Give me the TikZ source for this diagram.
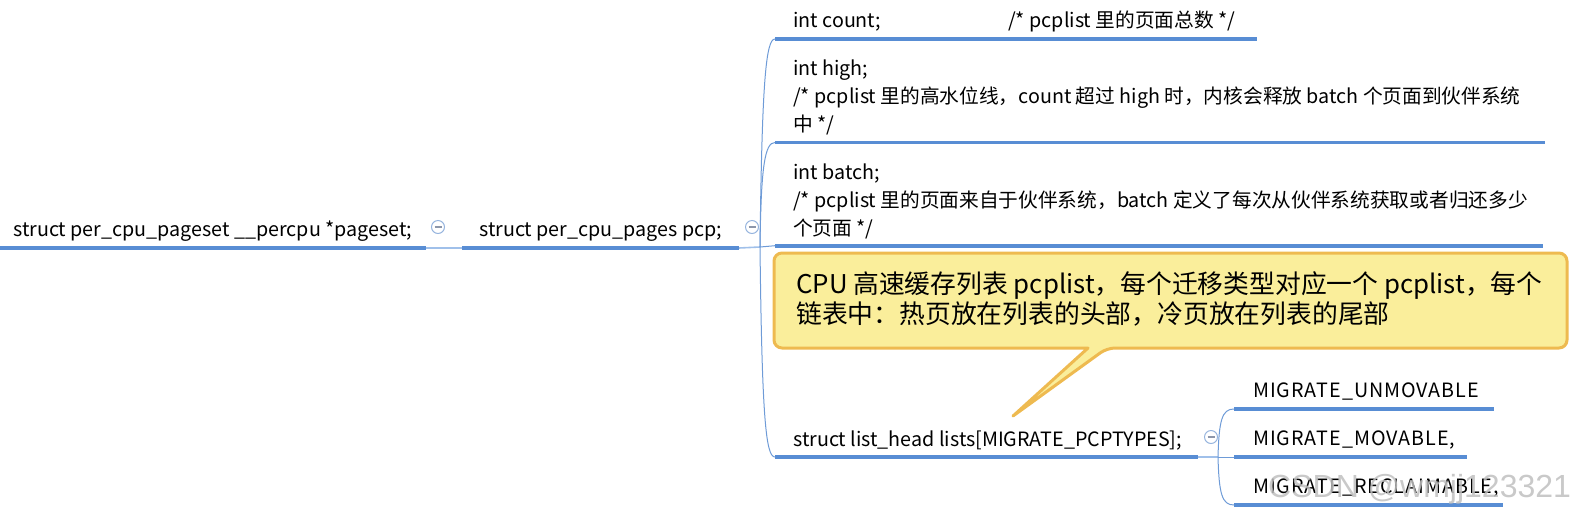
\documentclass[tikz,border=0pt]{standalone}
\usepackage{fontspec}
\setmainfont{Noto Sans CJK SC}
\newfontfamily\wmfont{Liberation Sans}
\newfontfamily\capsfont[LetterSpace=5]{Noto Sans CJK SC}
\definecolor{ublue}{RGB}{88,141,212}
\definecolor{cblue}{RGB}{110,155,215}
\definecolor{jblue}{RGB}{160,192,234}
\definecolor{btnline}{RGB}{150,180,222}
\definecolor{btnminus}{RGB}{140,150,170}
\definecolor{notefill}{RGB}{250,238,155}
\definecolor{noteline}{RGB}{238,186,80}
\begin{document}
\begin{tikzpicture}[x=1pt,y=-1pt,
  txt/.style={inner sep=0pt, anchor=base west, text=black, font=\fontsize{19.7}{28.3}\selectfont},
  ctxt/.style={inner sep=0pt, anchor=base west, text=black, font=\capsfont\fontsize{19.7}{28.3}\selectfont},
  ntxt/.style={inner sep=0pt, anchor=base west, text=black, font=\fontsize{25.8}{27.5}\selectfont},
  wm/.style={inner sep=0pt, anchor=base west, text=black!25, opacity=0.85, font=\wmfont\fontsize{32}{32}\selectfont},
  uline/.style={draw=ublue, line width=3.6pt},
  conn/.style={draw=cblue, line width=1pt},
  joint/.style={draw=jblue, line width=1.6pt},
  btn/.style={circle, draw=btnline, line width=1pt, fill=white, minimum size=13pt, inner sep=0pt,
    path picture={\draw[btnminus, line width=1.3pt]
      ([xshift=-3.5pt]path picture bounding box.center) -- ([xshift=3.5pt]path picture bounding box.center);}},
  notebox/.style={fill=notefill, draw=noteline, line width=3pt, line join=round}
]
\useasboundingbox (0,0) rectangle (1584,515);

% underline end points
\coordinate (ps-l) at (0,248);   \coordinate (ps-r) at (426,248);
\coordinate (pcp-l) at (462,248); \coordinate (pcp-r) at (739,248);
\coordinate (J) at (760,247);
\coordinate (cnt-l) at (775,39);  \coordinate (cnt-r) at (1257,39);
\coordinate (hi-l) at (775,142.5); \coordinate (hi-r) at (1545,142.5);
\coordinate (bt-l) at (775,245.7); \coordinate (bt-r) at (1543,245.7);
\coordinate (ls-l) at (775,457);  \coordinate (ls-r) at (1198,457);
\coordinate (J2) at (1218,457);
\coordinate (um-l) at (1234,409); \coordinate (um-r) at (1494,409);
\coordinate (mv-l) at (1234,457); \coordinate (mv-r) at (1467,457);
\coordinate (rc-l) at (1234,505); \coordinate (rc-r) at (1503,505);

% connectors
\draw[joint] (ps-r) -- (pcp-l);
\draw[joint] (pcp-r) -- (J);
\draw[conn] (J) .. controls (762,80) and (766,39) .. (cnt-l);
\draw[conn] (J) .. controls (761,165) and (765,142.5) .. (hi-l);
\draw[conn] (J) -- (bt-l);
\draw[conn] (J) .. controls (762,420) and (766,457) .. (ls-l);
\draw[joint] (ls-r) -- (J2);
\draw[conn] (J2) .. controls (1219,420) and (1222,409) .. (um-l);
\draw[conn] (J2) -- (mv-l);
\draw[conn] (J2) .. controls (1219,494) and (1222,505) .. (rc-l);

% underlines
\draw[uline] (ps-l) -- (ps-r);
\draw[uline] (pcp-l) -- (pcp-r);
\draw[uline] (cnt-l) -- (cnt-r);
\draw[uline] (hi-l) -- (hi-r);
\draw[uline] (bt-l) -- (bt-r);
\draw[uline] (ls-l) -- (ls-r);
\draw[uline] (um-l) -- (um-r);
\draw[uline] (mv-l) -- (mv-r);
\draw[uline] (rc-l) -- (rc-r);

% collapse buttons
\node[btn] (b1) at (438,227) {};
\node[btn] (b2) at (752,227) {};
\node[btn] (b3) at (1211,437) {};

% texts
\node[txt] (pageset) at (13,236) {struct per\_cpu\_pageset \_\_percpu *pageset;};
\node[txt] (pcp) at (479,236) {struct per\_cpu\_pages pcp;};
\node[txt] (count) at (793,27) {\makebox[215pt][l]{int count;}/* pcplist 里的页面总数 */};
\node[txt] (high) at (793,75) {\begin{tabular}[t]{@{}l@{}}int high;\\/* pcplist 里的高水位线，count 超过 high 时，内核会释放 batch 个页面到伙伴系统\\中 */\end{tabular}};
\node[txt] (batch) at (793,179) {\begin{tabular}[t]{@{}l@{}}int batch;\\/* pcplist 里的页面来自于伙伴系统，batch 定义了每次从伙伴系统获取或者归还多少\\个页面 */\end{tabular}};
\node[txt] (lists) at (793,446) {struct list\_head lists[MIGRATE\_PCPTYPES];};
\node[ctxt] (unmov) at (1253,397) {MIGRATE\_UNMOVABLE};
\node[ctxt] (mov) at (1253,445) {MIGRATE\_MOVABLE,};
\node[ctxt] (recl) at (1253,493) {MIGRATE\_RECLAIMABLE,};

% callout
\coordinate (tip) at (1013,416);
\path[notebox] (900,253) [rounded corners=8pt] -- (1567,253) -- (1567,348) -- (1107,348)
  [sharp corners] -- (tip) -- (1088,348) -- (1080,348)
  [rounded corners=8pt] -- (774,348) -- (774,253) -- cycle;
\node[ntxt] (note) at (796,293) {\begin{tabular}[t]{@{}l@{}}CPU 高速缓存列表 pcplist，每个迁移类型对应一个 pcplist，每个\\链表中：热页放在列表的头部，冷页放在列表的尾部\end{tabular}};

% watermark
\node[wm] (wmark) at (1268,497) {CSDN @wmjj123321};
\end{tikzpicture}
\end{document}
